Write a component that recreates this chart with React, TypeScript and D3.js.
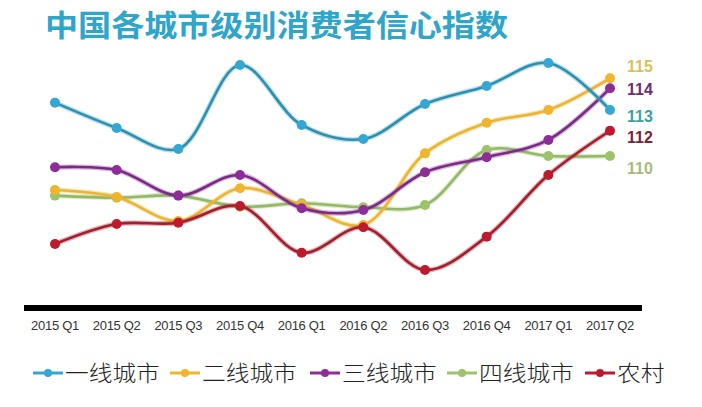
import React from "react";
import * as d3 from "d3";

const W = 702;
const H = 407;

const categories = [
  "2015 Q1", "2015 Q2", "2015 Q3", "2015 Q4", "2016 Q1",
  "2016 Q2", "2016 Q3", "2016 Q4", "2017 Q1", "2017 Q2",
];

const seriesNames = ["一线城市", "二线城市", "三线城市", "四线城市", "农村"];

const tier1 = [113.42, 111.79, 110.45, 115.83, 111.99, 111.09, 113.33, 114.49, 115.96, 112.95];
const tier2 = [107.82, 107.37, 105.83, 107.93, 106.86, 105.58, 110.17, 112.13, 112.95, 114.98];
const tier3 = [109.28, 109.10, 107.46, 108.78, 106.65, 106.54, 108.96, 109.92, 111.03, 114.34];
const tier4 = [107.46, 107.33, 107.46, 106.75, 106.97, 106.71, 106.86, 110.38, 110.0, 110.0];
const rural = [104.36, 105.64, 105.72, 106.79, 103.80, 105.43, 102.69, 104.83, 108.78, 111.62];

const endLabels = ["113", "115", "114", "110", "112"];

const colors = ["#34a7d2", "#f0b52c", "#8e2d97", "#9dc46c", "#be1a2e"];
const lineColors = ["#2e8fae", "#e9b534", "#7a2c84", "#93b868", "#a0202e"];
const labelColors = ["#3b9fa3", "#d6c15a", "#6b2f6e", "#a9ba78", "#7b2233"];
const labelY = [116, 66, 89, 168, 137];

const allSeries = [tier1, tier2, tier3, tier4, rural];

export default function App() {
  const x = d3.scalePoint<string>().domain(categories).range([55, 610]);
  const y = d3.scaleLinear().domain([110, 115]).range([156, 78]);
  const line = d3
    .line<number>()
    .x((_, i) => x(categories[i]) as number)
    .y((d) => y(d))
    .curve(d3.curveCatmullRom.alpha(0.5));

  const drawOrder = [3, 1, 2, 4, 0];

  const legendX = [33, 170, 310, 447, 585];

  return (
    <svg
      width={W}
      height={H}
      style={{ position: "absolute", left: 0, top: 0, background: "#fff" }}
    >
      <text
        x={45}
        y={36}
        fontFamily="'Noto Sans CJK SC', sans-serif"
        fontWeight="bold"
        fontSize={30}
        fill="#2ea5c9"
        textLength={463}
        lengthAdjust="spacingAndGlyphs"
      >
        中国各城市级别消费者信心指数
      </text>

      {drawOrder.map((si) => (
        <g key={si}>
          <path
            d={line(allSeries[si]) || ""}
            fill="none"
            stroke={colors[si]}
            strokeOpacity={0.35}
            strokeWidth={5}
          />
          <path
            d={line(allSeries[si]) || ""}
            fill="none"
            stroke={lineColors[si]}
            strokeWidth={2.6}
          />
          {allSeries[si].map((v, i) => (
            <circle
              key={i}
              cx={x(categories[i]) as number}
              cy={y(v)}
              r={5}
              fill={colors[si]}
            />
          ))}
        </g>
      ))}

      {endLabels.map((t, si) => (
        <text
          key={si}
          x={627}
          y={labelY[si]}
          dy="0.35em"
          fontFamily="'Liberation Sans', Arial, sans-serif"
          fontWeight="bold"
          fontSize={16}
          fill={labelColors[si]}
        >
          {t}
        </text>
      ))}

      <line x1={24} x2={642} y1={308} y2={308} stroke="#000" strokeWidth={6} />
      {categories.map((c) => (
        <text
          key={c}
          x={x(c) as number}
          y={330}
          textAnchor="middle"
          fontFamily="'Liberation Sans', Arial, sans-serif"
          fontSize={13}
          fill="#333"
          letterSpacing={-0.3}
        >
          {c}
        </text>
      ))}

      {seriesNames.map((n, si) => (
        <g key={n} transform={`translate(${legendX[si]},373)`}>
          <line x1={0} x2={30} y1={0} y2={0} stroke={colors[si]} strokeWidth={3} />
          <circle cx={15} cy={0} r={4} fill={colors[si]} />
          <text
            x={32}
            y={0}
            dy="0.36em"
            fontFamily="'Noto Sans CJK SC', sans-serif"
            fontSize={22}
            fontWeight={300}
            fill="#222"
            textLength={n.length * 23.7}
            lengthAdjust="spacingAndGlyphs"
          >
            {n}
          </text>
        </g>
      ))}
    </svg>
  );
}
